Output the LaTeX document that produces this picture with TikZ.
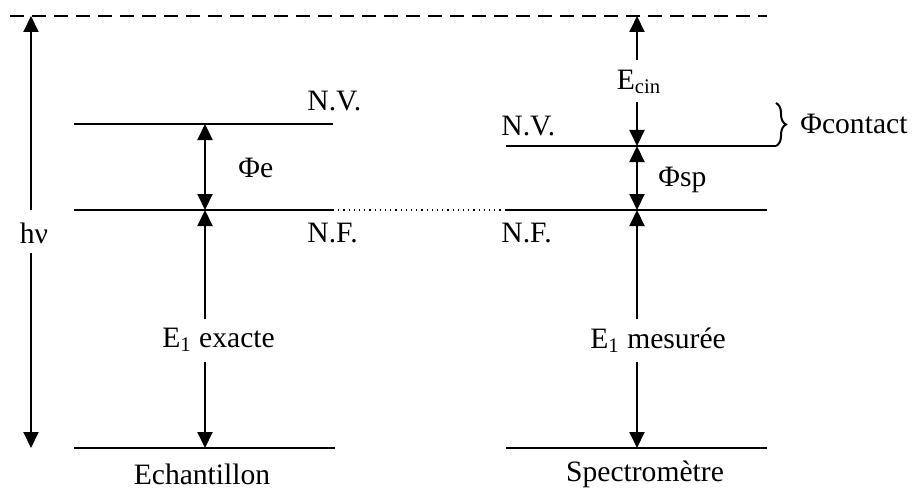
\documentclass[tikz,border=0pt]{standalone}
\usepackage{fontspec}
\setmainfont{Liberation Serif}
\usetikzlibrary{arrows.meta,decorations.pathreplacing}
\tikzset{
  lvl/.style={line width=1pt},
  arr/.style={line width=1pt,-{Triangle[length=8pt,width=7.5pt]}},
  darr/.style={line width=1pt,{Triangle[length=8pt,width=7.5pt]}-{Triangle[length=8pt,width=7.5pt]}},
  lab/.style={inner sep=0pt,font=\fontsize{14.8}{17}\selectfont},
}
\begin{document}
\begin{tikzpicture}[x=0.5pt,y=-0.5pt]
\useasboundingbox (0,0) rectangle (915,492);
% levels
\coordinate (vacL) at (10,16);
\coordinate (vacR) at (767,16);
\coordinate (nvLa) at (74,124); \coordinate (nvLb) at (333,124);
\coordinate (nfLa) at (74,210); \coordinate (nfLb) at (333,210);
\coordinate (nfRa) at (506,210); \coordinate (nfRb) at (767,210);
\coordinate (nvRa) at (506,146); \coordinate (nvRb) at (776,146);
\coordinate (brTop) at (776,103);
\coordinate (bLa) at (74,448); \coordinate (bLb) at (335,448);
\coordinate (bRa) at (506,448); \coordinate (bRb) at (767,448);
\draw[line width=1pt,dash pattern=on 7pt off 4pt] (vacL) -- (vacR);
\draw[lvl] (nvLa) -- (nvLb);
\draw[lvl] (nfLa) -- (nfLb);
\draw[line width=0.6pt,dotted] (nfLb) -- (nfRa);
\draw[lvl] (nfRa) -- (nfRb);
\draw[lvl] (nvRa) -- (nvRb);
\draw[line width=1pt,decorate,decoration={brace,amplitude=5pt}] (brTop) -- (nvRb);
\draw[lvl] (bLa) -- (bLb);
\draw[lvl] (bRa) -- (bRb);
% arrow anchor points
\coordinate (hvT) at (31,16); \coordinate (hvA) at (31,210);
\coordinate (hvB) at (31,253); \coordinate (hvE) at (31,448);
\coordinate (lNV) at (205,124); \coordinate (lNF) at (205,210);
\coordinate (lA) at (205,319); \coordinate (lB) at (205,362); \coordinate (lE) at (205,448);
\coordinate (rVac) at (637,16); \coordinate (rA0) at (637,60); \coordinate (rB0) at (637,102);
\coordinate (rNV) at (637,146); \coordinate (rNF) at (637,210);
\coordinate (rA) at (637,319); \coordinate (rB) at (637,362); \coordinate (rE) at (637,448);
% arrows
\draw[arr] (hvA) -- (hvT);
\draw[arr] (hvB) -- (hvE);
\draw[darr] (lNV) -- (lNF);
\draw[arr] (lA) -- (lNF);
\draw[arr] (lB) -- (lE);
\draw[arr] (rA0) -- (rVac);
\draw[arr] (rB0) -- (rNV);
\draw[darr] (rNV) -- (rNF);
\draw[arr] (rA) -- (rNF);
\draw[arr] (rB) -- (rE);
% labels
\node[lab] (hv) at (34,233) {hν};
\node[lab,anchor=west] (nvL) at (307,101) {N.V.};
\node[lab,anchor=west] (nfL) at (307,233) {N.F.};
\node[lab,anchor=west] (phie) at (238,168) {Φe};
\node[lab,anchor=west] (e1ex) at (162,340) {E\textsubscript{1} exacte};
\node[lab] (ech) at (202,474) {Echantillon};
\node[lab] (ecin) at (639,82) {E\textsubscript{cin}};
\node[lab,anchor=west] (nvR) at (501,126) {N.V.};
\node[lab,anchor=west] (nfR) at (501,233) {N.F.};
\node[lab,anchor=west] (phisp) at (658,180) {Φsp};
\node[lab,anchor=west] (phic) at (800,124) {Φcontact};
\node[lab,anchor=west] (e1me) at (590,340) {E\textsubscript{1} mesurée};
\node[lab] (spec) at (645,474) {Spectromètre};
\end{tikzpicture}
\end{document}
